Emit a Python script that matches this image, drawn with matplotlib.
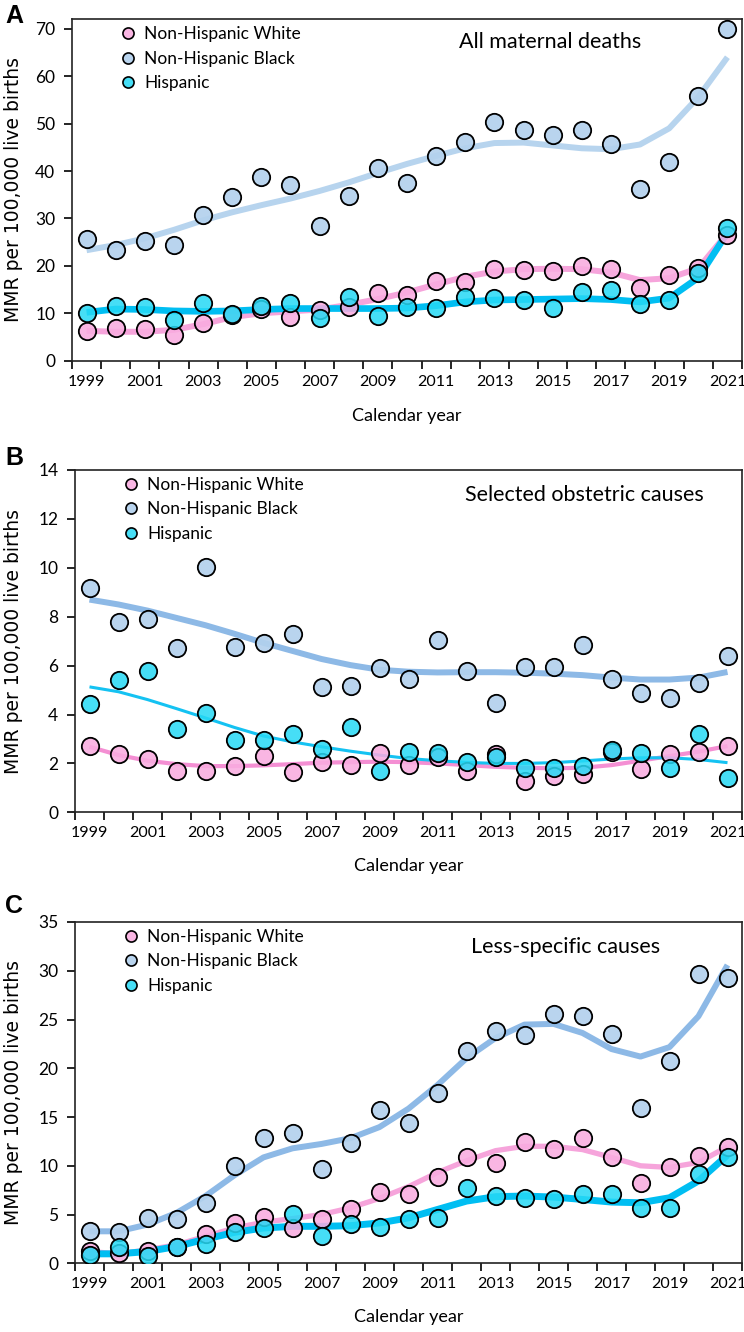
import matplotlib
matplotlib.use("Agg")
import matplotlib.pyplot as plt
from matplotlib.lines import Line2D
import numpy as np

plt.rcParams['font.family'] = ['Lato', 'DejaVu Sans']

years = list(range(1999, 2022))
series_names = ["Non-Hispanic White", "Non-Hispanic Black", "Hispanic"]

# Panel A: All maternal deaths
A_white = [6.3, 6.8, 6.6, 5.4, 8.0, 9.6, 11.0, 9.2, 10.7, 11.4, 14.2, 13.9, 16.9, 16.5,
           19.3, 19.2, 18.9, 19.9, 19.4, 15.3, 18.0, 19.6, 26.6]
A_black = [25.6, 23.4, 25.3, 24.4, 30.7, 34.6, 38.8, 37.0, 28.5, 34.8, 40.6, 37.5, 43.1,
           46.1, 50.3, 48.7, 47.6, 48.7, 45.8, 36.2, 42.0, 55.9, 70.0]
A_hisp = [10.0, 11.5, 11.4, 8.6, 12.1, 9.9, 11.5, 12.2, 8.9, 13.5, 9.4, 11.3, 11.2, 13.5,
          13.2, 12.8, 11.2, 14.4, 14.9, 12.0, 12.7, 18.5, 28.0]
A_white_trend = [6.3, 6.1, 6.1, 6.5, 7.7, 9.2, 10.0, 10.4, 10.8, 11.8, 13.0, 14.4, 16.1,
                 17.7, 18.8, 19.3, 19.4, 19.3, 18.6, 17.0, 17.4, 19.5, 26.9]
A_black_trend = [23.3, 24.4, 25.8, 27.6, 29.6, 31.3, 32.8, 34.2, 35.8, 37.6, 39.6, 41.5,
                 43.2, 44.8, 45.9, 46.0, 45.4, 44.8, 44.6, 45.6, 49.0, 55.6, 64.0]
A_hisp_trend = [10.2, 10.9, 10.8, 10.5, 10.4, 10.5, 10.8, 11.0, 11.0, 11.0, 11.0, 11.1,
                11.6, 12.4, 12.8, 12.9, 13.0, 13.1, 12.9, 12.4, 13.2, 17.5, 27.0]

# Panel B: Selected obstetric causes
B_white = [2.72, 2.38, 2.20, 1.70, 1.70, 1.90, 2.30, 1.66, 2.04, 1.93, 2.41, 1.93, 2.27,
           1.69, 2.40, 1.29, 1.48, 1.56, 2.48, 1.76, 2.37, 2.45, 2.71]
B_black = [9.19, 7.79, 7.92, 6.73, 10.02, 6.78, 6.94, 7.28, 5.13, 5.16, 5.92, 5.44, 7.06,
           5.78, 4.48, 5.95, 5.95, 6.85, 5.44, 4.86, 4.68, 5.29, 6.38]
B_hisp = [4.41, 5.43, 5.77, 3.40, 4.07, 2.95, 2.95, 3.20, 2.59, 3.47, 1.70, 2.45, 2.41,
          2.04, 2.25, 1.82, 1.82, 1.90, 2.54, 2.41, 1.80, 3.22, 1.39]
B_white_trend = [2.68, 2.34, 2.11, 1.97, 1.89, 1.89, 1.92, 1.97, 2.03, 2.05, 2.07, 2.05,
                 2.00, 1.93, 1.86, 1.82, 1.80, 1.82, 1.93, 2.11, 2.30, 2.48, 2.71]
B_black_trend = [8.70, 8.50, 8.25, 7.95, 7.65, 7.30, 6.93, 6.60, 6.27, 6.02, 5.83, 5.75,
                 5.72, 5.73, 5.73, 5.71, 5.67, 5.61, 5.51, 5.43, 5.43, 5.51, 5.74]
B_hisp_trend = [5.13, 4.93, 4.61, 4.24, 3.86, 3.47, 3.12, 2.88, 2.68, 2.50, 2.34, 2.20,
                2.11, 2.04, 2.00, 2.00, 2.03, 2.10, 2.18, 2.23, 2.23, 2.16, 2.03]

# Panel C: Less-specific causes
C_white = [1.28, 1.03, 1.31, 1.72, 3.00, 4.14, 4.76, 3.62, 4.55, 5.59, 7.34, 7.07, 8.86,
           10.86, 10.28, 12.48, 11.72, 12.83, 10.86, 8.28, 9.83, 11.03, 11.97]
C_black = [3.34, 3.17, 4.66, 4.59, 6.14, 10.0, 12.83, 13.38, 9.66, 12.31, 15.69, 14.38,
           17.48, 21.72, 23.79, 23.45, 25.52, 25.34, 23.52, 15.97, 20.79, 29.66, 29.21]
C_hisp = [0.86, 1.72, 0.70, 1.72, 1.97, 3.17, 3.62, 5.07, 2.83, 4.07, 3.69, 4.55, 4.66,
          7.76, 6.90, 6.66, 6.62, 7.07, 7.14, 5.69, 5.69, 9.14, 10.86]
C_white_trend = [1.21, 0.97, 1.38, 1.90, 2.76, 3.62, 4.21, 4.59, 5.00, 5.69, 6.66, 7.86,
                 9.31, 10.52, 11.55, 12.00, 12.00, 11.66, 10.86, 10.00, 9.83, 10.34, 11.97]
C_black_trend = [3.28, 3.28, 3.97, 5.17, 6.90, 9.03, 10.86, 11.79, 12.24, 12.83, 13.97,
                 15.86, 18.28, 21.03, 23.10, 24.48, 24.55, 23.62, 21.97, 21.20, 22.17,
                 25.34, 30.59]
C_hisp_trend = [0.97, 0.97, 1.21, 1.72, 2.48, 3.17, 3.62, 3.79, 3.79, 3.86, 4.14, 4.66,
                5.52, 6.38, 6.83, 6.90, 6.79, 6.55, 6.28, 6.21, 6.72, 8.45, 11.10]

panel_titles = ["All maternal deaths", "Selected obstetric causes", "Less-specific causes"]
panel_letters = ["A", "B", "C"]
y_maxes = [72, 14, 35]
y_steps = [10, 2, 5]

W, H = 744, 1332
fig = plt.figure(figsize=(W / 100, H / 100), dpi=100)

marker_fill = [(0.976, 0.675, 0.878, 0.88), (0.70, 0.82, 0.93, 0.92), (0.15, 0.85, 0.96, 0.85)]
line_cols_A = ["#F6A4DB", "#B7D4EE", "#00BEF2"]
line_cols_B = ["#F48FD3", "#8DB9E6", "#14C2F2"]
line_cols_C = ["#F6A4DB", "#8DB9E6", "#00BEF2"]
line_cols = [line_cols_A, line_cols_B, line_cols_C]
line_widths = [[4.3, 4.3, 4.8], [3.0, 4.3, 2.2], [3.8, 4.3, 5.0]]

# axes rectangles in pixels: left, right, top, bottom
rects = [(72, 742, 19.3, 360.7), (75, 742, 470, 812.3), (75, 742, 922, 1263.3)]
letter_y = [16, 458, 906]
title_xy = [(550, 42), (584, 495), (566, 947)]
xlabel_pad = [14, 13, 13]

panels = [
    (A_white, A_black, A_hisp, A_white_trend, A_black_trend, A_hisp_trend),
    (B_white, B_black, B_hisp, B_white_trend, B_black_trend, B_hisp_trend),
    (C_white, C_black, C_hisp, C_white_trend, C_black_trend, C_hisp_trend),
]

x = np.arange(len(years))
for p, (data, rect) in enumerate(zip(panels, rects)):
    l, r, t, b = rect
    ax = fig.add_axes([l / W, 1 - b / H, (r - l) / W, (b - t) / H])
    pts = data[:3]
    trends = data[3:]
    for k in range(3):
        ax.plot(x, trends[k], color=line_cols[p][k], lw=line_widths[p][k],
                solid_capstyle='butt', zorder=2)
    for k in range(3):
        ax.plot(x, pts[k], 'o', ms=12.5, mfc=marker_fill[k], mec='black', mew=1.3,
                zorder=3 + k)
    ax.set_xlim(-0.5, len(years) - 0.5)
    ax.set_ylim(0, y_maxes[p])
    ax.set_yticks(np.arange(0, y_maxes[p] + 0.01, y_steps[p]))
    ax.set_yticklabels([str(int(v)) for v in np.arange(0, y_maxes[p] + 0.01, y_steps[p])])
    ax.set_xticks(np.arange(-0.5, len(years), 1.0))
    ax.set_xticklabels([])
    ax.set_xticks(x[::2], minor=True)
    ax.set_xticklabels([str(yy) for yy in years[::2]], minor=True)
    ax.tick_params(axis='x', which='major', direction='out', length=6, width=1.2)
    ax.tick_params(axis='x', which='minor', length=0, pad=10, labelsize=11.5)
    ax.tick_params(axis='y', direction='out', length=6, width=1.2, pad=6, labelsize=12.5)
    for s in ax.spines.values():
        s.set_linewidth(1.2)
        s.set_color('#222222')
    ax.set_xlabel("Calendar year", fontsize=13, labelpad=xlabel_pad[p])
    ax.set_ylabel("MMR per 100,000 live births", family=['DejaVu Sans'], fontsize=13.5)
    ax.yaxis.set_label_coords((23 - l) / (r - l), 0.5)
    handles = [Line2D([], [], ls='none', marker='o', ms=8, mfc=marker_fill[k], mec='black',
                      mew=1.2) for k in range(3)]
    ax.legend(handles, series_names, loc='upper left', bbox_to_anchor=(0.055, 1.01),
              frameon=False, fontsize=12.5, handlelength=1.0, handletextpad=0.45,
              labelspacing=0.48, borderaxespad=0.2)
    tx, ty = title_xy[p]
    fig.text(tx / W, 1 - ty / H, panel_titles[p], ha='center', va='center', fontsize=15.5)
    fig.text(14 / W, 1 - letter_y[p] / H, panel_letters[p], ha='center', va='center',
             fontsize=18, fontweight='bold', family=['Liberation Sans', 'DejaVu Sans'])

fig.savefig("out.png", dpi=100)
